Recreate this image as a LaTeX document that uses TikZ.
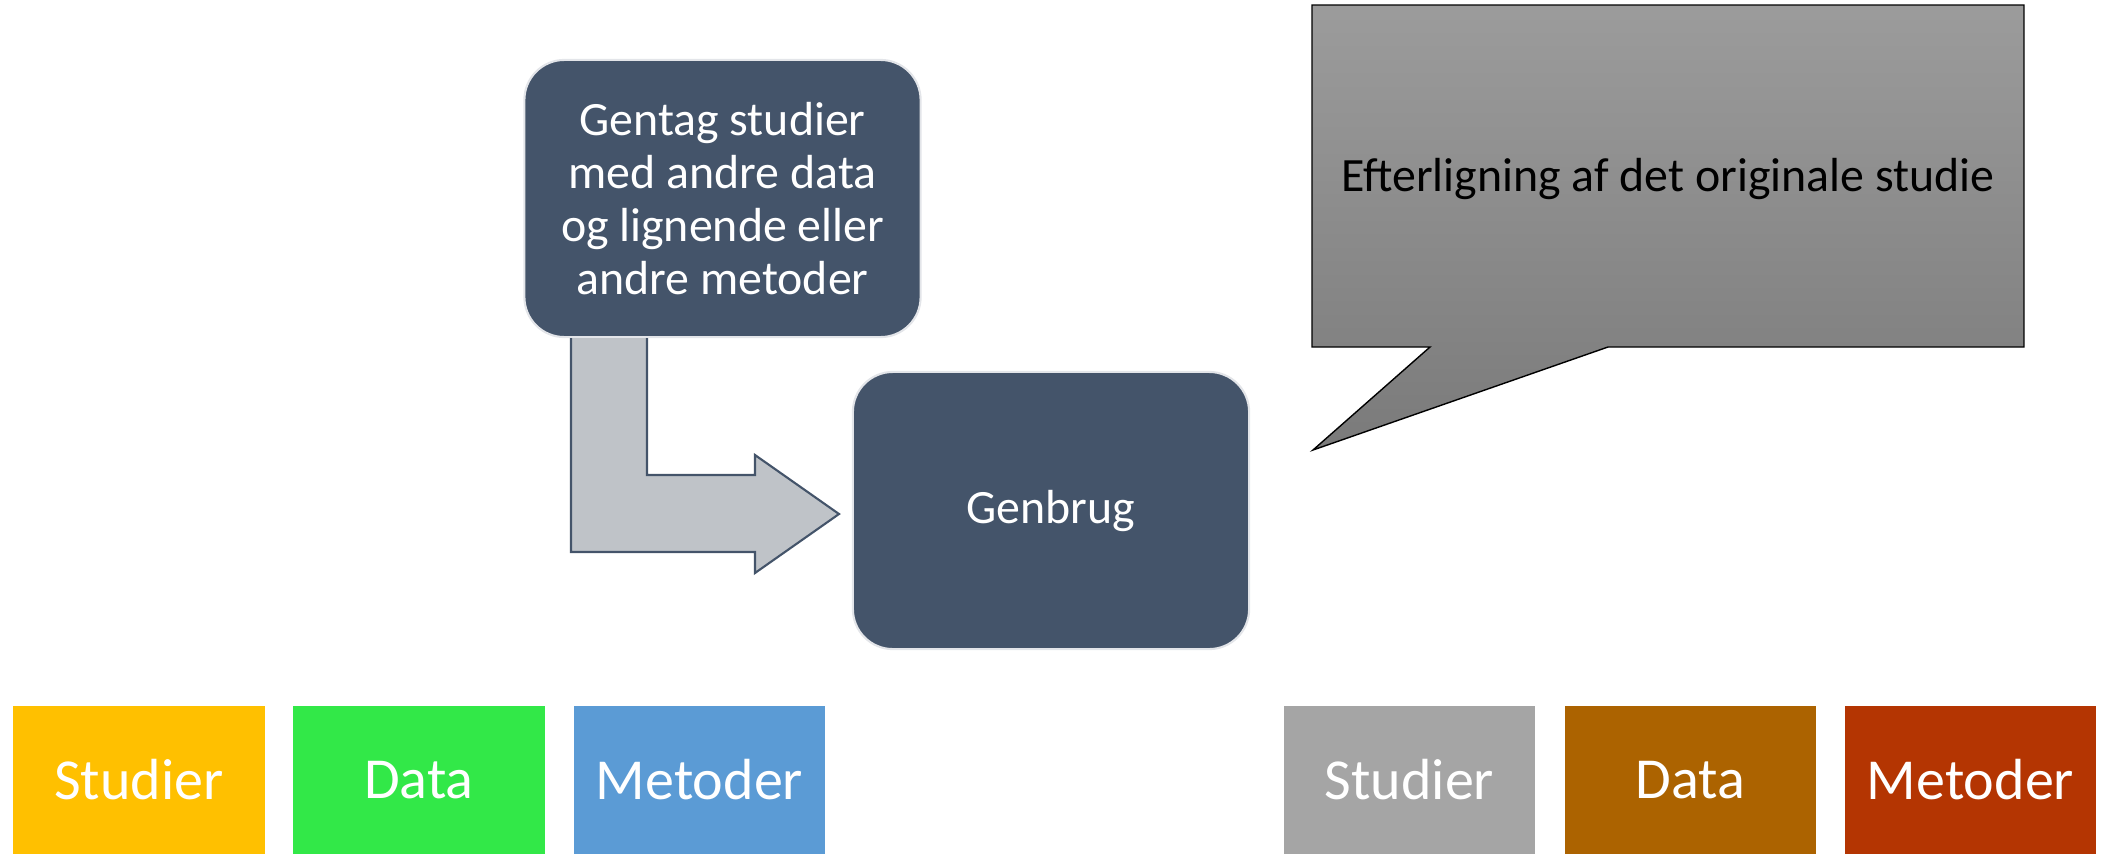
\documentclass[tikz,border=0pt]{standalone}
\usepackage{fontspec}
\setmainfont{Carlito}
\definecolor{slate}{HTML}{44546A}
\definecolor{arrowgrey}{RGB}{191,195,200}
\definecolor{tagorange}{RGB}{255,192,0}
\definecolor{taggreen}{RGB}{50,232,72}
\definecolor{tagblue}{RGB}{91,155,213}
\definecolor{taggrey}{RGB}{165,165,165}
\definecolor{tagbrown}{RGB}{172,99,0}
\definecolor{tagred}{RGB}{180,53,2}
\begin{document}
\begin{tikzpicture}[x=0.01cm,y=-0.01cm,
  darkbox/.style={draw=white!85!slate, line width=0.6pt, fill=slate, rounded corners=0.4cm,
    text=white, align=center, minimum width=3.96cm, minimum height=2.77cm, inner sep=0pt,
    font=\fontsize{13.6}{15}\selectfont},
  tag/.style={fill=#1, text=white, minimum width=2.51cm, minimum height=1.48cm, inner sep=0pt,
    font=\fontsize{16.5}{20}\selectfont}]
\useasboundingbox (0,0) rectangle (2106,854);
\shade[top color=black!39, bottom color=black!52, draw=black, line width=0.4pt]
  (1312,5) -- (2024,5) -- (2024,347) -- (1608,347) -- (1313,450) -- (1430,347) -- (1312,347) -- cycle;
\node[font=\fontsize{13.6}{16}\selectfont] (efter) at (1668,179) {Efterligning af det originale studie};
\node[darkbox] (gentag) at (722.5,198.5) {Gentag studier\\med andre data\\og lignende eller\\andre metoder};
\node[darkbox] (genbrug) at (1051,510.5) {Genbrug};
\coordinate (tip) at (839,514);
\draw[draw=slate, fill=arrowgrey, line width=0.6pt] (gentag.south -| 571,0) -- (571,552) -- (755,552) -- (755,573)
  -- (tip) -- (755,455) -- (755,475) -- (647,475) -- (gentag.south -| 647,0);
\node[tag=tagorange] (studier1) at (139,780) {Studier};
\node[tag=taggreen] (data1) at (419,780) {Data};
\node[tag=tagblue] (metoder1) at (699.5,780) {Metoder};
\node[tag=taggrey] (studier2) at (1409.5,780) {Studier};
\node[tag=tagbrown] (data2) at (1690.5,780) {Data};
\node[tag=tagred] (metoder2) at (1970.5,780) {Metoder};
\end{tikzpicture}
\end{document}
